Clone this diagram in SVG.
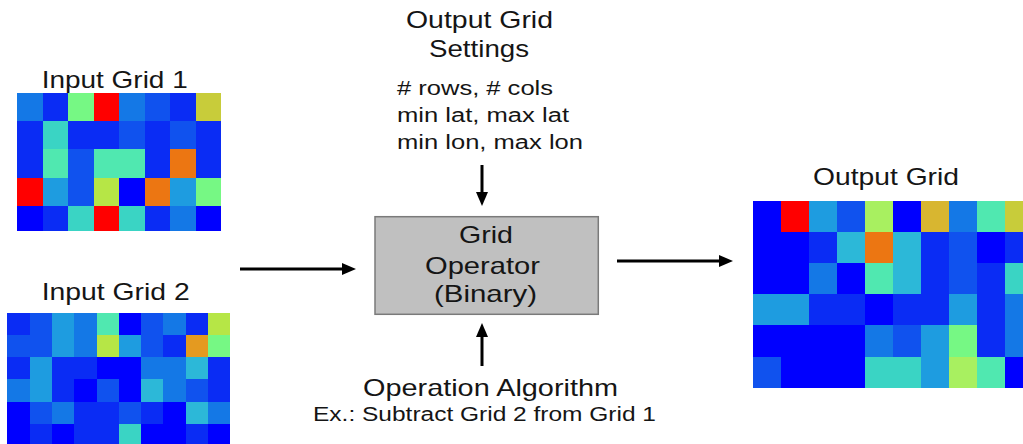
<svg xmlns="http://www.w3.org/2000/svg" width="1023" height="444" viewBox="0 0 1023 444">
  <style>
    text { font-family: "Liberation Sans", Arial, sans-serif; fill: #151515; }
    .t24 { font-size: 24px; }
    .t20 { font-size: 20px; }
    .conn { stroke: #000; stroke-width: 3; fill: none; }
    .op { fill: #c0c0c0; stroke: #7a7a7a; stroke-width: 1.5; }
    .cells rect { shape-rendering: crispEdges; }
    /* jet colour map cells */
    .B0 { fill: #0000ff; } .B1 { fill: #0a2cf4; } .B2 { fill: #1052ee; }
    .B3 { fill: #1478e6; } .B4 { fill: #1e9ce0; } .C1 { fill: #2cb8d8; }
    .C2 { fill: #3ad4c4; } .M { fill: #50e8b0; } .G { fill: #76f884; }
    .Y { fill: #b6e646; } .Y2 { fill: #a8f060; } .O { fill: #c8cc3a; }
    .GO { fill: #d8b630; } .AM { fill: #e49a20; } .OR { fill: #ec7612; }
    .R { fill: #ff0000; }
  </style>
  <defs>
    <marker id="head" markerUnits="userSpaceOnUse" markerWidth="15" markerHeight="12" refX="1" refY="6" orient="auto">
      <path d="M0,0 L14,6 L0,12 z" fill="#000"/>
    </marker>
    <clipPath id="clipOut"><rect x="752" y="200" width="271" height="188"/></clipPath>
  </defs>

  <rect width="1023" height="444" fill="#fff"/>

  <!-- first input grid: 8 x 5 cells -->
  <g id="input-grid-1">
    <text class="t24" x="41.7" y="88" textLength="146" lengthAdjust="spacingAndGlyphs">Input Grid 1</text>
    <g class="cells">
      <!-- row 0 -->
      <rect class="B3" x="17.3" y="92.7" width="25.5" height="28.4"/>
      <rect class="B1" x="42.8" y="92.7" width="25.5" height="28.4"/>
      <rect class="G" x="68.3" y="92.7" width="25.5" height="28.4"/>
      <rect class="R" x="93.8" y="92.7" width="25.5" height="28.4"/>
      <rect class="B3" x="119.3" y="92.7" width="25.5" height="28.4"/>
      <rect class="B2" x="144.8" y="92.7" width="25.5" height="28.4"/>
      <rect class="B1" x="170.3" y="92.7" width="25.5" height="28.4"/>
      <rect class="O" x="195.8" y="92.7" width="25.5" height="28.4"/>
      <!-- row 1 -->
      <rect class="B1" x="17.3" y="121" width="25.5" height="28.4"/>
      <rect class="C2" x="42.8" y="121" width="25.5" height="28.4"/>
      <rect class="B1" x="68.3" y="121" width="25.5" height="28.4"/>
      <rect class="B1" x="93.8" y="121" width="25.5" height="28.4"/>
      <rect class="B2" x="119.3" y="121" width="25.5" height="28.4"/>
      <rect class="B1" x="144.8" y="121" width="25.5" height="28.4"/>
      <rect class="B2" x="170.3" y="121" width="25.5" height="28.4"/>
      <rect class="B1" x="195.8" y="121" width="25.5" height="28.4"/>
      <!-- row 2 -->
      <rect class="B1" x="17.3" y="149.3" width="25.5" height="28.4"/>
      <rect class="M" x="42.8" y="149.3" width="25.5" height="28.4"/>
      <rect class="B2" x="68.3" y="149.3" width="25.5" height="28.4"/>
      <rect class="M" x="93.8" y="149.3" width="25.5" height="28.4"/>
      <rect class="M" x="119.3" y="149.3" width="25.5" height="28.4"/>
      <rect class="B1" x="144.8" y="149.3" width="25.5" height="28.4"/>
      <rect class="OR" x="170.3" y="149.3" width="25.5" height="28.4"/>
      <rect class="B1" x="195.8" y="149.3" width="25.5" height="28.4"/>
      <!-- row 3 -->
      <rect class="R" x="17.3" y="177.6" width="25.5" height="28.4"/>
      <rect class="B4" x="42.8" y="177.6" width="25.5" height="28.4"/>
      <rect class="B2" x="68.3" y="177.6" width="25.5" height="28.4"/>
      <rect class="Y" x="93.8" y="177.6" width="25.5" height="28.4"/>
      <rect class="B0" x="119.3" y="177.6" width="25.5" height="28.4"/>
      <rect class="OR" x="144.8" y="177.6" width="25.5" height="28.4"/>
      <rect class="B4" x="170.3" y="177.6" width="25.5" height="28.4"/>
      <rect class="G" x="195.8" y="177.6" width="25.5" height="28.4"/>
      <!-- row 4 -->
      <rect class="B0" x="17.3" y="205.9" width="25.5" height="24.8"/>
      <rect class="B1" x="42.8" y="205.9" width="25.5" height="24.8"/>
      <rect class="C2" x="68.3" y="205.9" width="25.5" height="24.8"/>
      <rect class="R" x="93.8" y="205.9" width="25.5" height="24.8"/>
      <rect class="C2" x="119.3" y="205.9" width="25.5" height="24.8"/>
      <rect class="B1" x="144.8" y="205.9" width="25.5" height="24.8"/>
      <rect class="B3" x="170.3" y="205.9" width="25.5" height="24.8"/>
      <rect class="B0" x="195.8" y="205.9" width="25.5" height="24.8"/>
    </g>
  </g>

  <!-- second input grid: 10 x 6 cells -->
  <g id="input-grid-2">
    <text class="t24" x="41.7" y="300" textLength="148" lengthAdjust="spacingAndGlyphs">Input Grid 2</text>
    <g class="cells">
      <!-- row 0 -->
      <rect class="B1" x="7.3" y="312.7" width="22.3" height="22.3"/>
      <rect class="B2" x="29.6" y="312.7" width="22.3" height="22.3"/>
      <rect class="B4" x="51.9" y="312.7" width="22.3" height="22.3"/>
      <rect class="B3" x="74.2" y="312.7" width="22.3" height="22.3"/>
      <rect class="M" x="96.5" y="312.7" width="22.3" height="22.3"/>
      <rect class="B0" x="118.8" y="312.7" width="22.3" height="22.3"/>
      <rect class="B2" x="141.1" y="312.7" width="22.3" height="22.3"/>
      <rect class="B3" x="163.4" y="312.7" width="22.3" height="22.3"/>
      <rect class="B1" x="185.7" y="312.7" width="22.3" height="22.3"/>
      <rect class="Y" x="208" y="312.7" width="22.3" height="22.3"/>
      <!-- row 1 -->
      <rect class="B2" x="7.3" y="334.9" width="22.3" height="22.3"/>
      <rect class="B2" x="29.6" y="334.9" width="22.3" height="22.3"/>
      <rect class="B4" x="51.9" y="334.9" width="22.3" height="22.3"/>
      <rect class="B3" x="74.2" y="334.9" width="22.3" height="22.3"/>
      <rect class="Y" x="96.5" y="334.9" width="22.3" height="22.3"/>
      <rect class="B4" x="118.8" y="334.9" width="22.3" height="22.3"/>
      <rect class="B2" x="141.1" y="334.9" width="22.3" height="22.3"/>
      <rect class="B1" x="163.4" y="334.9" width="22.3" height="22.3"/>
      <rect class="AM" x="185.7" y="334.9" width="22.3" height="22.3"/>
      <rect class="G" x="208" y="334.9" width="22.3" height="22.3"/>
      <!-- row 2 -->
      <rect class="B1" x="7.3" y="357.1" width="22.3" height="22.3"/>
      <rect class="B4" x="29.6" y="357.1" width="22.3" height="22.3"/>
      <rect class="B1" x="51.9" y="357.1" width="22.3" height="22.3"/>
      <rect class="B1" x="74.2" y="357.1" width="22.3" height="22.3"/>
      <rect class="B0" x="96.5" y="357.1" width="22.3" height="22.3"/>
      <rect class="B0" x="118.8" y="357.1" width="22.3" height="22.3"/>
      <rect class="B3" x="141.1" y="357.1" width="22.3" height="22.3"/>
      <rect class="B3" x="163.4" y="357.1" width="22.3" height="22.3"/>
      <rect class="C1" x="185.7" y="357.1" width="22.3" height="22.3"/>
      <rect class="B1" x="208" y="357.1" width="22.3" height="22.3"/>
      <!-- row 3 -->
      <rect class="B3" x="7.3" y="379.3" width="22.3" height="22.3"/>
      <rect class="B4" x="29.6" y="379.3" width="22.3" height="22.3"/>
      <rect class="B1" x="51.9" y="379.3" width="22.3" height="22.3"/>
      <rect class="B0" x="74.2" y="379.3" width="22.3" height="22.3"/>
      <rect class="B2" x="96.5" y="379.3" width="22.3" height="22.3"/>
      <rect class="B0" x="118.8" y="379.3" width="22.3" height="22.3"/>
      <rect class="C1" x="141.1" y="379.3" width="22.3" height="22.3"/>
      <rect class="B3" x="163.4" y="379.3" width="22.3" height="22.3"/>
      <rect class="B2" x="185.7" y="379.3" width="22.3" height="22.3"/>
      <rect class="B1" x="208" y="379.3" width="22.3" height="22.3"/>
      <!-- row 4 -->
      <rect class="B0" x="7.3" y="401.5" width="22.3" height="22.3"/>
      <rect class="B2" x="29.6" y="401.5" width="22.3" height="22.3"/>
      <rect class="B3" x="51.9" y="401.5" width="22.3" height="22.3"/>
      <rect class="B1" x="74.2" y="401.5" width="22.3" height="22.3"/>
      <rect class="B1" x="96.5" y="401.5" width="22.3" height="22.3"/>
      <rect class="B2" x="118.8" y="401.5" width="22.3" height="22.3"/>
      <rect class="B1" x="141.1" y="401.5" width="22.3" height="22.3"/>
      <rect class="B0" x="163.4" y="401.5" width="22.3" height="22.3"/>
      <rect class="C1" x="185.7" y="401.5" width="22.3" height="22.3"/>
      <rect class="B3" x="208" y="401.5" width="22.3" height="22.3"/>
      <!-- row 5 -->
      <rect class="B0" x="7.3" y="423.7" width="22.3" height="20.3"/>
      <rect class="B1" x="29.6" y="423.7" width="22.3" height="20.3"/>
      <rect class="B0" x="51.9" y="423.7" width="22.3" height="20.3"/>
      <rect class="B1" x="74.2" y="423.7" width="22.3" height="20.3"/>
      <rect class="B1" x="96.5" y="423.7" width="22.3" height="20.3"/>
      <rect class="C2" x="118.8" y="423.7" width="22.3" height="20.3"/>
      <rect class="B0" x="141.1" y="423.7" width="22.3" height="20.3"/>
      <rect class="B0" x="163.4" y="423.7" width="22.3" height="20.3"/>
      <rect class="B1" x="185.7" y="423.7" width="22.3" height="20.3"/>
      <rect class="B0" x="208" y="423.7" width="22.3" height="20.3"/>
    </g>
  </g>

  <!-- output grid settings label -->
  <g id="output-settings">
    <text class="t24" x="406" y="28" textLength="147" lengthAdjust="spacingAndGlyphs">Output Grid</text>
    <text class="t24" x="429" y="57" textLength="100" lengthAdjust="spacingAndGlyphs">Settings</text>
    <text class="t20" x="397" y="95" textLength="156" lengthAdjust="spacingAndGlyphs"># rows, # cols</text>
    <text class="t20" x="397" y="122" textLength="172" lengthAdjust="spacingAndGlyphs">min lat, max lat</text>
    <text class="t20" x="397" y="149" textLength="186" lengthAdjust="spacingAndGlyphs">min lon, max lon</text>
  </g>

  <!-- the operator box -->
  <g id="grid-operator">
    <rect class="op" x="375" y="216.7" width="223.3" height="97.6"/>
    <text class="t24" x="459" y="243" textLength="54" lengthAdjust="spacingAndGlyphs">Grid</text>
    <text class="t24" x="425" y="274" textLength="115" lengthAdjust="spacingAndGlyphs">Operator</text>
    <text class="t24" x="434" y="302" textLength="103" lengthAdjust="spacingAndGlyphs">(Binary)</text>
  </g>

  <!-- operation algorithm label -->
  <g id="operation-algorithm">
    <text class="t24" x="363" y="396" textLength="255" lengthAdjust="spacingAndGlyphs">Operation Algorithm</text>
    <text class="t20" x="313" y="421" textLength="343" lengthAdjust="spacingAndGlyphs">Ex.: Subtract Grid 2 from Grid 1</text>
  </g>

  <!-- output grid: 10 x 6 cells, clipped at the right edge -->
  <g id="output-grid">
    <text class="t24" x="813" y="185" textLength="146" lengthAdjust="spacingAndGlyphs">Output Grid</text>
    <g class="cells" clip-path="url(#clipOut)">
      <!-- row 0 -->
      <rect class="B0" x="752.7" y="201" width="28" height="31.1"/>
      <rect class="R" x="780.7" y="201" width="28" height="31.1"/>
      <rect class="B4" x="808.7" y="201" width="28" height="31.1"/>
      <rect class="B2" x="836.7" y="201" width="28" height="31.1"/>
      <rect class="Y2" x="864.7" y="201" width="28" height="31.1"/>
      <rect class="B0" x="892.7" y="201" width="28" height="31.1"/>
      <rect class="GO" x="920.7" y="201" width="28" height="31.1"/>
      <rect class="B3" x="948.7" y="201" width="28" height="31.1"/>
      <rect class="M" x="976.7" y="201" width="28" height="31.1"/>
      <rect class="O" x="1004.7" y="201" width="28" height="31.1"/>
      <!-- row 1 -->
      <rect class="B0" x="752.7" y="232.1" width="28" height="31.1"/>
      <rect class="B0" x="780.7" y="232.1" width="28" height="31.1"/>
      <rect class="B1" x="808.7" y="232.1" width="28" height="31.1"/>
      <rect class="C1" x="836.7" y="232.1" width="28" height="31.1"/>
      <rect class="OR" x="864.7" y="232.1" width="28" height="31.1"/>
      <rect class="C1" x="892.7" y="232.1" width="28" height="31.1"/>
      <rect class="B1" x="920.7" y="232.1" width="28" height="31.1"/>
      <rect class="B2" x="948.7" y="232.1" width="28" height="31.1"/>
      <rect class="B0" x="976.7" y="232.1" width="28" height="31.1"/>
      <rect class="B1" x="1004.7" y="232.1" width="28" height="31.1"/>
      <!-- row 2 -->
      <rect class="B0" x="752.7" y="263.2" width="28" height="31.1"/>
      <rect class="B0" x="780.7" y="263.2" width="28" height="31.1"/>
      <rect class="B3" x="808.7" y="263.2" width="28" height="31.1"/>
      <rect class="B0" x="836.7" y="263.2" width="28" height="31.1"/>
      <rect class="M" x="864.7" y="263.2" width="28" height="31.1"/>
      <rect class="C1" x="892.7" y="263.2" width="28" height="31.1"/>
      <rect class="B1" x="920.7" y="263.2" width="28" height="31.1"/>
      <rect class="B2" x="948.7" y="263.2" width="28" height="31.1"/>
      <rect class="B1" x="976.7" y="263.2" width="28" height="31.1"/>
      <rect class="C2" x="1004.7" y="263.2" width="28" height="31.1"/>
      <!-- row 3 -->
      <rect class="B4" x="752.7" y="294.3" width="28" height="31.1"/>
      <rect class="B4" x="780.7" y="294.3" width="28" height="31.1"/>
      <rect class="B1" x="808.7" y="294.3" width="28" height="31.1"/>
      <rect class="B1" x="836.7" y="294.3" width="28" height="31.1"/>
      <rect class="B0" x="864.7" y="294.3" width="28" height="31.1"/>
      <rect class="B1" x="892.7" y="294.3" width="28" height="31.1"/>
      <rect class="B1" x="920.7" y="294.3" width="28" height="31.1"/>
      <rect class="B4" x="948.7" y="294.3" width="28" height="31.1"/>
      <rect class="B1" x="976.7" y="294.3" width="28" height="31.1"/>
      <rect class="B3" x="1004.7" y="294.3" width="28" height="31.1"/>
      <!-- row 4 -->
      <rect class="B0" x="752.7" y="325.4" width="28" height="31.1"/>
      <rect class="B0" x="780.7" y="325.4" width="28" height="31.1"/>
      <rect class="B0" x="808.7" y="325.4" width="28" height="31.1"/>
      <rect class="B0" x="836.7" y="325.4" width="28" height="31.1"/>
      <rect class="B3" x="864.7" y="325.4" width="28" height="31.1"/>
      <rect class="B2" x="892.7" y="325.4" width="28" height="31.1"/>
      <rect class="B4" x="920.7" y="325.4" width="28" height="31.1"/>
      <rect class="G" x="948.7" y="325.4" width="28" height="31.1"/>
      <rect class="B1" x="976.7" y="325.4" width="28" height="31.1"/>
      <rect class="B3" x="1004.7" y="325.4" width="28" height="31.1"/>
      <!-- row 5 -->
      <rect class="B2" x="752.7" y="356.5" width="28" height="31.2"/>
      <rect class="B0" x="780.7" y="356.5" width="28" height="31.2"/>
      <rect class="B0" x="808.7" y="356.5" width="28" height="31.2"/>
      <rect class="B0" x="836.7" y="356.5" width="28" height="31.2"/>
      <rect class="C2" x="864.7" y="356.5" width="28" height="31.2"/>
      <rect class="C2" x="892.7" y="356.5" width="28" height="31.2"/>
      <rect class="B4" x="920.7" y="356.5" width="28" height="31.2"/>
      <rect class="Y2" x="948.7" y="356.5" width="28" height="31.2"/>
      <rect class="M" x="976.7" y="356.5" width="28" height="31.2"/>
      <rect class="B0" x="1004.7" y="356.5" width="28" height="31.2"/>
    </g>
  </g>

  <!-- connectors -->
  <g id="connectors">
    <line class="conn" x1="240" y1="269" x2="343" y2="269" marker-end="url(#head)"/>
    <line class="conn" x1="617" y1="261" x2="720" y2="261" marker-end="url(#head)"/>
    <line class="conn" x1="482" y1="165" x2="482" y2="193" marker-end="url(#head)"/>
    <line class="conn" x1="482" y1="366" x2="482" y2="336" marker-end="url(#head)"/>
  </g>
</svg>
